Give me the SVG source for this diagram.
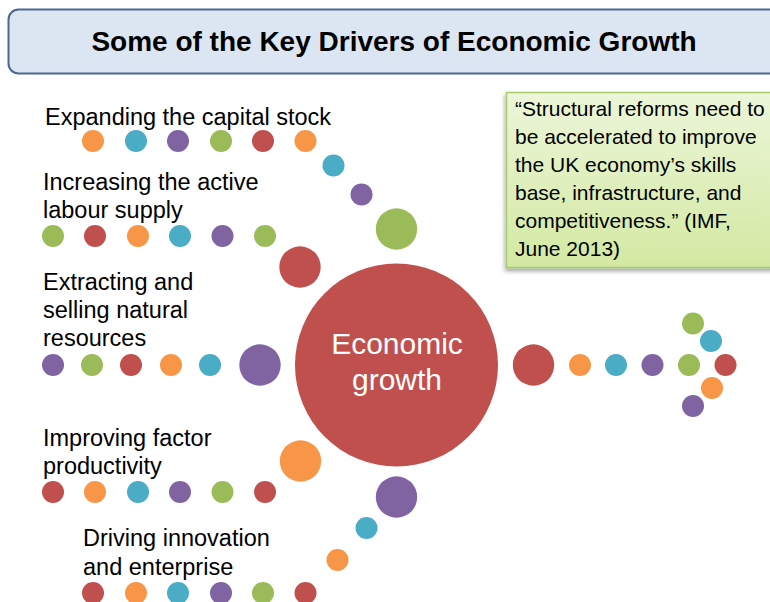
<svg xmlns="http://www.w3.org/2000/svg" width="770" height="602" viewBox="0 0 770 602">
  <defs>
    <linearGradient id="quoteFill" x1="0" y1="0" x2="0" y2="1">
      <stop offset="0" stop-color="#ecf6d9"/>
      <stop offset="1" stop-color="#d3e9a2"/>
    </linearGradient>
    <filter id="shadow" x="-10%" y="-10%" width="120%" height="125%">
      <feDropShadow dx="-1" dy="3" stdDeviation="2" flood-color="#000" flood-opacity="0.35"/>
    </filter>
  </defs>
  <style>
    .lbl { font-family: "Liberation Sans", Arial, sans-serif; font-size: 23.5px; fill: #000; }
    .quote { font-family: "Liberation Sans", Arial, sans-serif; font-size: 21px; fill: #000; }
    .title { font-family: "Liberation Sans", Arial, sans-serif; font-size: 28px; font-weight: bold; fill: #000; }
    .core { font-family: "Liberation Sans", Arial, sans-serif; font-size: 30px; fill: #fff; }
    .r { fill: #c0504d; }
    .o { fill: #f79646; }
    .t { fill: #4bacc6; }
    .p { fill: #8064a2; }
    .g { fill: #9bbb59; }
  </style>
  <rect width="770" height="602" fill="#fff"/>

  <g id="title">
    <rect x="8.5" y="9.5" width="780" height="64" rx="10" ry="10" fill="#dce6f2" stroke="#4a6892" stroke-width="2"/>
    <text class="title" x="394" y="51" text-anchor="middle">Some of the Key Drivers of Economic Growth</text>
  </g>

  <g id="quote">
    <rect x="506.5" y="92.5" width="280" height="175" fill="url(#quoteFill)" stroke="#a9c96e" stroke-width="1.5" filter="url(#shadow)"/>
    <text class="quote" x="515" y="116">“Structural reforms need to</text>
    <text class="quote" x="515" y="144">be accelerated to improve</text>
    <text class="quote" x="515" y="172">the UK economy’s skills</text>
    <text class="quote" x="515" y="200">base, infrastructure, and</text>
    <text class="quote" x="515" y="228">competitiveness.” (IMF,</text>
    <text class="quote" x="515" y="256">June 2013)</text>
  </g>

  <g id="economic-growth">
    <circle cx="396.5" cy="365" r="101.5" class="r"/>
    <text class="core" x="397" y="354" text-anchor="middle">Economic</text>
    <text class="core" x="397" y="390" text-anchor="middle">growth</text>
  </g>

  <g id="driver-capital">
    <text class="lbl" x="45" y="125">Expanding the capital stock</text>
  </g>
  <g id="driver-labour">
    <text class="lbl" x="43" y="190">Increasing the active</text>
    <text class="lbl" x="43" y="218">labour supply</text>
  </g>
  <g id="driver-resources">
    <text class="lbl" x="43" y="290">Extracting and</text>
    <text class="lbl" x="43" y="318">selling natural</text>
    <text class="lbl" x="43" y="346">resources</text>
  </g>
  <g id="driver-productivity">
    <text class="lbl" x="43" y="446">Improving factor</text>
    <text class="lbl" x="43" y="474">productivity</text>
  </g>
  <g id="driver-innovation">
    <text class="lbl" x="83" y="546">Driving innovation</text>
    <text class="lbl" x="83" y="575">and enterprise</text>
  </g>

  <g id="connectors">
    <g id="trail-capital">
      <circle cx="93" cy="141" r="11" class="o"/>
      <circle cx="136" cy="141" r="11" class="t"/>
      <circle cx="178" cy="141" r="11" class="p"/>
      <circle cx="221" cy="141" r="11" class="g"/>
      <circle cx="263" cy="141" r="11" class="r"/>
      <circle cx="305.5" cy="141" r="11" class="o"/>
      <circle cx="333.5" cy="165.5" r="11" class="t"/>
      <circle cx="361.5" cy="194.5" r="11" class="p"/>
      <circle cx="396.5" cy="229" r="20.7" class="g"/>
    </g>
    <g id="trail-labour">
      <circle cx="53" cy="236" r="11" class="g"/>
      <circle cx="95" cy="236" r="11" class="r"/>
      <circle cx="138" cy="236" r="11" class="o"/>
      <circle cx="180" cy="236" r="11" class="t"/>
      <circle cx="222.5" cy="236" r="11" class="p"/>
      <circle cx="265" cy="236" r="11" class="g"/>
      <circle cx="300" cy="267" r="20.7" class="r"/>
    </g>
    <g id="trail-resources">
      <circle cx="53" cy="365" r="11" class="p"/>
      <circle cx="92" cy="365" r="11" class="g"/>
      <circle cx="131" cy="365" r="11" class="r"/>
      <circle cx="171" cy="365" r="11" class="o"/>
      <circle cx="210" cy="365" r="11" class="t"/>
      <circle cx="260" cy="365" r="20.7" class="p"/>
    </g>
    <g id="trail-productivity">
      <circle cx="53" cy="492" r="11" class="r"/>
      <circle cx="95" cy="492" r="11" class="o"/>
      <circle cx="138" cy="492" r="11" class="t"/>
      <circle cx="180" cy="492" r="11" class="p"/>
      <circle cx="222.5" cy="492" r="11" class="g"/>
      <circle cx="265" cy="492" r="11" class="r"/>
      <circle cx="300.5" cy="461" r="20.7" class="o"/>
    </g>
    <g id="trail-innovation">
      <circle cx="93" cy="593" r="11" class="r"/>
      <circle cx="136" cy="593" r="11" class="o"/>
      <circle cx="178" cy="593" r="11" class="t"/>
      <circle cx="221" cy="593" r="11" class="p"/>
      <circle cx="263" cy="593" r="11" class="g"/>
      <circle cx="305.5" cy="593" r="11" class="r"/>
      <circle cx="337.5" cy="560" r="11" class="o"/>
      <circle cx="366.5" cy="528" r="11" class="t"/>
      <circle cx="396.5" cy="497" r="20.7" class="p"/>
    </g>
    <g id="output-arrow">
      <circle cx="533.5" cy="365" r="20.7" class="r"/>
      <circle cx="580" cy="365" r="11" class="o"/>
      <circle cx="616" cy="365" r="11" class="t"/>
      <circle cx="652.5" cy="365" r="11" class="p"/>
      <circle cx="689" cy="365" r="11" class="g"/>
      <circle cx="725.5" cy="365" r="11" class="r"/>
      <circle cx="693" cy="323.5" r="11" class="g"/>
      <circle cx="711" cy="341" r="11" class="t"/>
      <circle cx="712" cy="388" r="11" class="o"/>
      <circle cx="693" cy="406" r="11" class="p"/>
    </g>
  </g>
</svg>
